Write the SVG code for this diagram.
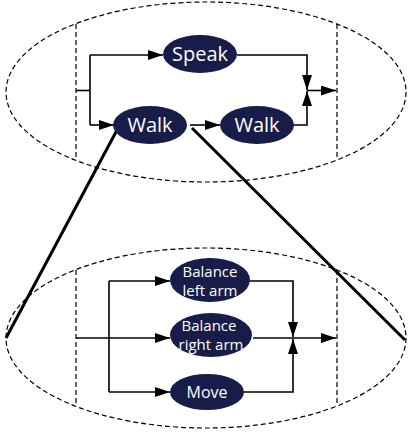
<svg xmlns="http://www.w3.org/2000/svg" width="415" height="436" viewBox="0 0 415 436">
<style>
.dash{fill:none;stroke:#000;stroke-width:1.2;stroke-dasharray:5,3}
.c{fill:none;stroke:#000;stroke-width:1.6}
.zoom{fill:none;stroke:#000;stroke-width:3}
.n{fill:#181c48}
.t{fill:#fff;font-family:"Open Sans","Noto Sans",sans-serif;text-anchor:middle}
</style>
<defs>
<marker id="a" markerUnits="userSpaceOnUse" markerWidth="16" markerHeight="10" refX="15" refY="5" orient="auto">
<path d="M0,0 L15,5 L0,10 z" fill="#000"/>
</marker>
</defs>
<g id="frames">
<ellipse class="dash" cx="206" cy="92" rx="200" ry="90"/>
<line class="dash" x1="76" y1="24" x2="76" y2="160"/>
<line class="dash" x1="337" y1="24" x2="337" y2="160"/>
<ellipse class="dash" cx="206" cy="338" rx="200" ry="90"/>
<line class="dash" x1="76" y1="270" x2="76" y2="406"/>
<line class="dash" x1="337" y1="270" x2="337" y2="406"/>
</g>
<g id="connectors">
<path class="zoom" d="M117,130 L6,338"/>
<path class="zoom" d="M192,128 L405,340"/>
<path class="c" d="M76,90.5 H90"/>
<path class="c" d="M90,55 V125"/>
<path class="c" d="M90,55 H163" marker-end="url(#a)"/>
<path class="c" d="M90,125 H114" marker-end="url(#a)"/>
<path class="c" d="M190,125 H220" marker-end="url(#a)"/>
<path class="c" d="M237,55 H307 V90" marker-end="url(#a)"/>
<path class="c" d="M294,125 H307 V91" marker-end="url(#a)"/>
<path class="c" d="M307,90.5 H336" marker-end="url(#a)"/>
<path class="c" d="M76,338 H170" marker-end="url(#a)"/>
<path class="c" d="M109,281 V392"/>
<path class="c" d="M109,281 H170" marker-end="url(#a)"/>
<path class="c" d="M109,392 H170" marker-end="url(#a)"/>
<path class="c" d="M249,281 H293 V337" marker-end="url(#a)"/>
<path class="c" d="M244,392 H293 V339" marker-end="url(#a)"/>
<path class="c" d="M253,338 H336" marker-end="url(#a)"/>
</g>
<g id="speak"><ellipse class="n" cx="200" cy="54" rx="37" ry="19"/><text class="t" x="200" y="61" font-size="20">Speak</text></g>
<g id="walk1"><ellipse class="n" cx="150" cy="125" rx="37" ry="19"/><text class="t" x="150" y="132" font-size="20">Walk</text></g>
<g id="walk2"><ellipse class="n" cx="257" cy="125" rx="37" ry="19"/><text class="t" x="257" y="132" font-size="20">Walk</text></g>
<g id="balance-left"><ellipse class="n" cx="210" cy="280" rx="40" ry="22"/><text class="t" x="210" y="277" font-size="15">Balance</text><text class="t" x="210" y="296" font-size="15">left arm</text></g>
<g id="balance-right"><ellipse class="n" cx="211" cy="335" rx="41" ry="22"/><text class="t" x="209" y="331" font-size="15">Balance</text><text class="t" x="211" y="350" font-size="15">right arm</text></g>
<g id="move"><ellipse class="n" cx="207" cy="392" rx="37" ry="18"/><text class="t" x="207" y="398" font-size="16">Move</text></g>
</svg>
